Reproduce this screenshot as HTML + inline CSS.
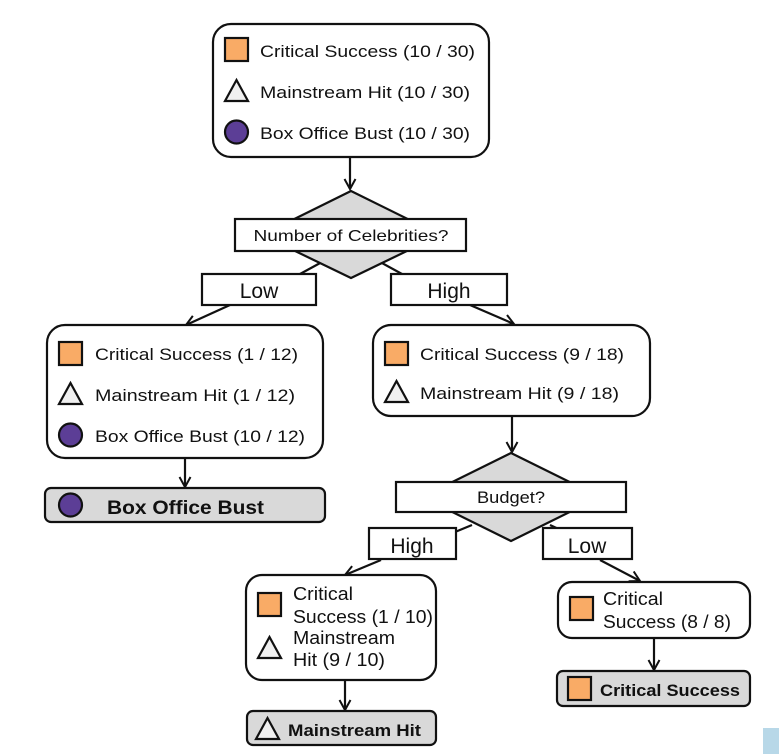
<!DOCTYPE html>
<html><head><meta charset="utf-8"><style>
html,body{margin:0;padding:0;background:#fff;}
svg, svg text{font-family:"Liberation Sans",Arial,sans-serif;}
</style></head><body>
<svg width="779" height="754" viewBox="0 0 779 754" xmlns="http://www.w3.org/2000/svg" style="display:block">
<defs>
<marker id="a" markerWidth="14" markerHeight="14" refX="11" refY="7" orient="auto" markerUnits="userSpaceOnUse">
<path d="M1,1.5 L11,7 L1,12.5" fill="none" stroke="#111" stroke-width="2"/>
</marker>
</defs>
<g stroke="#111" stroke-width="2.2" fill="none">
<line x1="350" y1="157" x2="350" y2="189" marker-end="url(#a)"/>
<line x1="322" y1="262" x2="300" y2="274"/>
<line x1="380" y1="262" x2="402" y2="274"/>
<line x1="230" y1="305" x2="186" y2="325" marker-end="url(#a)"/>
<line x1="470" y1="305" x2="514" y2="324" marker-end="url(#a)"/>
<line x1="185" y1="458" x2="185" y2="487" marker-end="url(#a)"/>
<line x1="512" y1="416" x2="512" y2="452" marker-end="url(#a)"/>
<line x1="472" y1="525" x2="455" y2="532"/>
<line x1="550" y1="525" x2="565" y2="532"/>
<line x1="381" y1="560" x2="345" y2="575" marker-end="url(#a)"/>
<line x1="600" y1="560" x2="640" y2="581" marker-end="url(#a)"/>
<line x1="345" y1="680" x2="345" y2="710" marker-end="url(#a)"/>
<line x1="654" y1="638" x2="654" y2="670" marker-end="url(#a)"/>
</g>
<g stroke="#111" stroke-width="2.2">
<rect x="213" y="24" width="276" height="133" rx="18" fill="#fff"/>
<rect x="225" y="38" width="23" height="23" fill="#f9ab66"/>
<path d="M225,101 L236.5,80 L248,101 Z" fill="#f0f0f0"/>
<circle cx="236.5" cy="132" r="11.5" fill="#5c3e96"/>
<path d="M351,191 L440,235 L351,278 L262,235 Z" fill="#d9d9d9"/>
<rect x="235" y="219" width="231" height="32" fill="#fff"/>
<rect x="202" y="274" width="114" height="31" fill="#fff"/>
<rect x="391" y="274" width="116" height="31" fill="#fff"/>
<rect x="47" y="325" width="276" height="133" rx="18" fill="#fff"/>
<rect x="59" y="342" width="23" height="23" fill="#f9ab66"/>
<path d="M59,404 L70.5,383 L82,404 Z" fill="#f0f0f0"/>
<circle cx="70.5" cy="435" r="11.5" fill="#5c3e96"/>
<rect x="373" y="325" width="277" height="91" rx="18" fill="#fff"/>
<rect x="385" y="342" width="23" height="23" fill="#f9ab66"/>
<path d="M385,402 L396.5,381 L408,402 Z" fill="#f0f0f0"/>
<rect x="45" y="488" width="280" height="34" rx="6" fill="#d9d9d9"/>
<circle cx="70.5" cy="505" r="11.5" fill="#5c3e96"/>
<path d="M511,453 L600,497 L511,541 L422,497 Z" fill="#d9d9d9"/>
<rect x="396" y="482" width="230" height="30" fill="#fff"/>
<rect x="369" y="528" width="87" height="31" fill="#fff"/>
<rect x="543" y="528" width="89" height="31" fill="#fff"/>
<rect x="246" y="575" width="190" height="105" rx="16" fill="#fff"/>
<rect x="258" y="593" width="23" height="23" fill="#f9ab66"/>
<path d="M258,658 L269.5,637 L281,658 Z" fill="#f0f0f0"/>
<rect x="558" y="582" width="192" height="56" rx="14" fill="#fff"/>
<rect x="570" y="597" width="23" height="23" fill="#f9ab66"/>
<rect x="247" y="711" width="189" height="34" rx="6" fill="#d9d9d9"/>
<path d="M256,739 L267.5,718 L279,739 Z" fill="#f0f0f0"/>
<rect x="557" y="671" width="193" height="35" rx="6" fill="#d9d9d9"/>
<rect x="568" y="677" width="23" height="23" fill="#f9ab66"/>
</g>
<rect x="763" y="728" width="16" height="26" fill="#b8d8e8"/>
<g fill="#111" font-size="17" font-family="Liberation Sans, Arial, sans-serif">
<text x="260" y="57" textLength="215" lengthAdjust="spacingAndGlyphs">Critical Success (10 / 30)</text>
<text x="260" y="98" textLength="210" lengthAdjust="spacingAndGlyphs">Mainstream Hit (10 / 30)</text>
<text x="260" y="139" textLength="210" lengthAdjust="spacingAndGlyphs">Box Office Bust (10 / 30)</text>
<text x="351" y="241" text-anchor="middle" font-size="16" textLength="195" lengthAdjust="spacingAndGlyphs">Number of Celebrities?</text>
<text x="259" y="298" text-anchor="middle" font-size="21">Low</text>
<text x="449" y="298" text-anchor="middle" font-size="21">High</text>
<text x="95" y="360" textLength="203" lengthAdjust="spacingAndGlyphs">Critical Success (1 / 12)</text>
<text x="95" y="401" textLength="200" lengthAdjust="spacingAndGlyphs">Mainstream Hit (1 / 12)</text>
<text x="95" y="442" textLength="210" lengthAdjust="spacingAndGlyphs">Box Office Bust (10 / 12)</text>
<text x="420" y="360" textLength="204" lengthAdjust="spacingAndGlyphs">Critical Success (9 / 18)</text>
<text x="420" y="399" textLength="199" lengthAdjust="spacingAndGlyphs">Mainstream Hit (9 / 18)</text>
<text x="107" y="514" font-weight="bold" font-size="19" textLength="157" lengthAdjust="spacingAndGlyphs">Box Office Bust</text>
<text x="511" y="503" text-anchor="middle" font-size="17" textLength="68" lengthAdjust="spacingAndGlyphs">Budget?</text>
<text x="412" y="553" text-anchor="middle" font-size="21">High</text>
<text x="587" y="553" text-anchor="middle" font-size="21">Low</text>
<text x="293" y="600" font-size="18" textLength="60" lengthAdjust="spacingAndGlyphs">Critical</text>
<text x="293" y="623" font-size="18" textLength="140" lengthAdjust="spacingAndGlyphs">Success (1 / 10)</text>
<text x="293" y="644" font-size="18" textLength="102" lengthAdjust="spacingAndGlyphs">Mainstream</text>
<text x="293" y="666" font-size="18" textLength="92" lengthAdjust="spacingAndGlyphs">Hit (9 / 10)</text>
<text x="603" y="605" font-size="18" textLength="60" lengthAdjust="spacingAndGlyphs">Critical</text>
<text x="603" y="628" font-size="18" textLength="128" lengthAdjust="spacingAndGlyphs">Success (8 / 8)</text>
<text x="288" y="736" font-weight="bold" font-size="17" textLength="133" lengthAdjust="spacingAndGlyphs">Mainstream Hit</text>
<text x="600" y="696" font-weight="bold" font-size="17" textLength="140" lengthAdjust="spacingAndGlyphs">Critical Success</text>
</g>
</svg>
</body></html>
